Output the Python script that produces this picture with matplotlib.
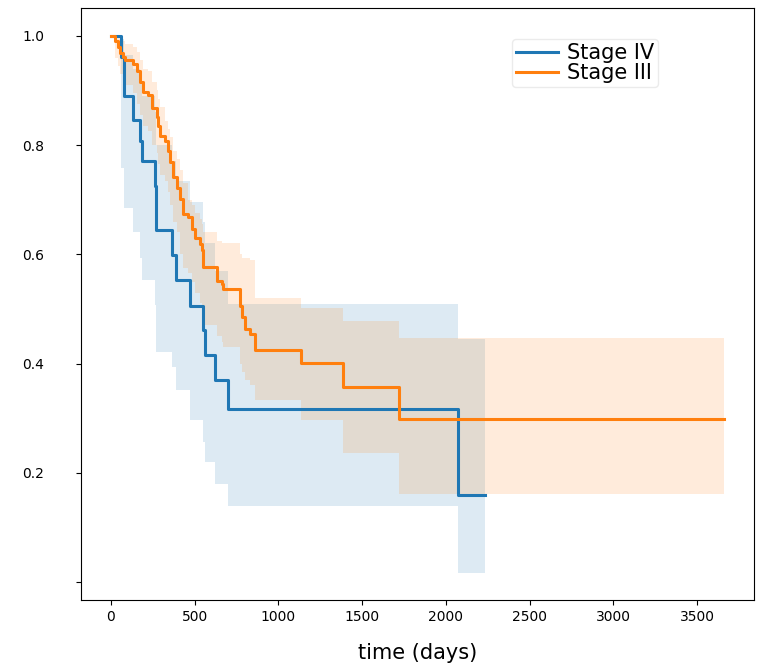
import matplotlib
matplotlib.use("Agg")
import matplotlib.pyplot as plt

# Stage IV (Kaplan-Meier estimate)
t_iv = [0, 60, 80, 133, 173, 187, 263, 268, 362, 388, 472, 551, 561, 621, 700, 2070, 2234]
s_iv = [1.0, 0.962, 0.889, 0.846, 0.807, 0.770, 0.726, 0.645, 0.599, 0.553, 0.505,
        0.462, 0.416, 0.369, 0.317, 0.160, 0.160]
lo_iv = [1.0, 0.758, 0.685, 0.641, 0.594, 0.553, 0.508, 0.422, 0.393, 0.351, 0.297,
         0.257, 0.220, 0.180, 0.140, 0.017, 0.017]
hi_iv = [1.0, 0.995, 0.965, 0.940, 0.915, 0.890, 0.860, 0.800, 0.770, 0.735, 0.695,
         0.660, 0.620, 0.570, 0.509, 0.445, 0.445]

# Stage III
t_iii = [0, 24, 40, 54, 70, 84, 133, 153, 173, 193, 223, 243, 273, 283, 293, 323, 340,
         352, 372, 392, 412, 432, 462, 482, 502, 532, 542, 551, 631, 661, 671, 771, 781,
         800, 830, 860, 1135, 1386, 1720, 3662]
s_iii = [1.0, 0.990, 0.980, 0.969, 0.962, 0.956, 0.949, 0.935, 0.915, 0.898, 0.891,
         0.868, 0.851, 0.835, 0.817, 0.807, 0.790, 0.769, 0.742, 0.722, 0.702, 0.674,
         0.668, 0.647, 0.630, 0.618, 0.607, 0.576, 0.552, 0.546, 0.536, 0.505, 0.485,
         0.464, 0.455, 0.425, 0.401, 0.357, 0.298, 0.298]
lo_iii = [1.0, 0.960, 0.945, 0.930, 0.920, 0.910, 0.895, 0.875, 0.855, 0.835, 0.825,
          0.800, 0.785, 0.765, 0.745, 0.735, 0.715, 0.690, 0.660, 0.640, 0.600, 0.575,
          0.565, 0.550, 0.530, 0.510, 0.500, 0.470, 0.450, 0.440, 0.430, 0.400, 0.385,
          0.370, 0.360, 0.333, 0.297, 0.237, 0.162, 0.162]
hi_iii = [1.0, 1.0, 1.0, 0.995, 0.990, 0.985, 0.980, 0.970, 0.955, 0.940, 0.935,
          0.915, 0.900, 0.885, 0.870, 0.845, 0.830, 0.815, 0.790, 0.775, 0.755, 0.730,
          0.700, 0.690, 0.675, 0.665, 0.655, 0.640, 0.625, 0.620, 0.620, 0.600, 0.594,
          0.594, 0.590, 0.520, 0.502, 0.477, 0.446, 0.446]

yticks = [0.0, 0.2, 0.4, 0.6, 0.8, 1.0]
ylabels = ["", "0.2", "0.4", "0.6", "0.8", "1.0"]
xticks = [0, 500, 1000, 1500, 2000, 2500, 3000, 3500]

blue = "#1f77b4"
orange = "#ff7f0e"

fig = plt.figure(figsize=(7.62, 6.67), dpi=100)
ax = fig.add_axes([0.1063, 0.1004, 0.8832, 0.8876])

ax.fill_between(t_iv, lo_iv, hi_iv, step="post", color=blue, alpha=0.15, linewidth=0)
ax.plot(t_iv, s_iv, drawstyle="steps-post", color=blue, lw=2.2, label="Stage IV")
ax.fill_between(t_iii, lo_iii, hi_iii, step="post", color=orange, alpha=0.15, linewidth=0)
ax.plot(t_iii, s_iii, drawstyle="steps-post", color=orange, lw=2.2, label="Stage III")

ax.set_xlim(-179, 3840)
ax.set_ylim(-0.033, 1.051)
ax.set_xticks(xticks)
ax.set_yticks(yticks)
ax.set_yticklabels(ylabels)
ax.tick_params(labelsize=10)
ax.tick_params(axis="y", pad=23)
ax.set_xlabel("time (days)", fontsize=15, labelpad=14)

ax.legend(loc="upper left", bbox_to_anchor=(0.64, 0.948), fontsize=15,
          handlelength=2.0, handletextpad=0.45, borderaxespad=0, labelspacing=0.0,
          frameon=True, edgecolor="0.9", fancybox=True, borderpad=0.2)

fig.savefig("out.png", dpi=100)
